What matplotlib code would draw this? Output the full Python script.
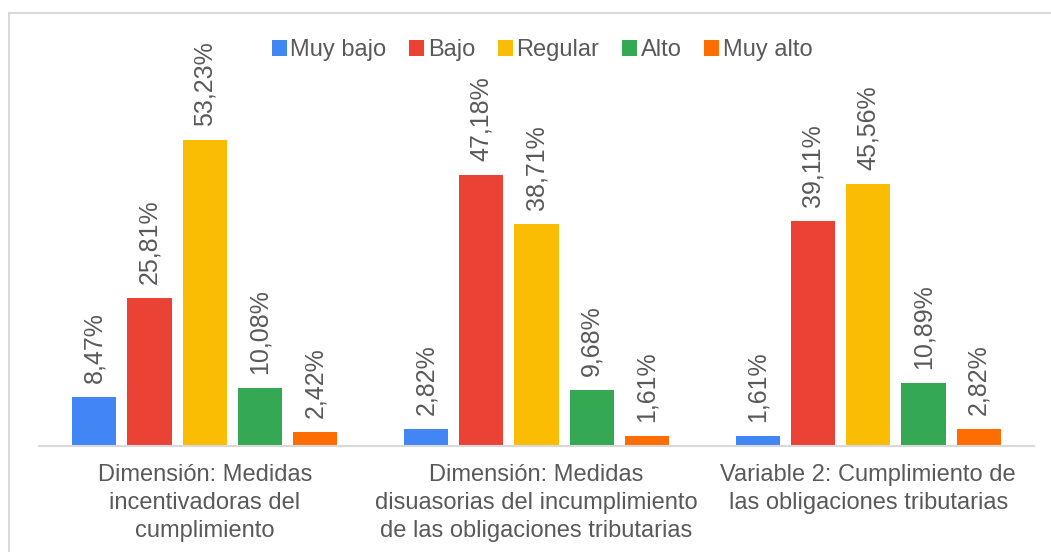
import matplotlib
matplotlib.use("Agg")
import matplotlib.pyplot as plt
from matplotlib.patches import Rectangle
import numpy as np

plt.rcParams['font.family'] = ['Liberation Sans', 'DejaVu Sans']

categories = ["Dimensión: Medidas\nincentivadoras del\ncumplimiento",
              "Dimensión: Medidas\ndisuasorias del incumplimiento\nde las obligaciones tributarias",
              "Variable 2: Cumplimiento de\nlas obligaciones tributarias"]
series = ["Muy bajo", "Bajo", "Regular", "Alto", "Muy alto"]
values = {
    "Muy bajo": [8.47, 2.82, 1.61],
    "Bajo": [25.81, 47.18, 39.11],
    "Regular": [53.23, 38.71, 45.56],
    "Alto": [10.08, 9.68, 10.89],
    "Muy alto": [2.42, 1.61, 2.82],
}
colors = ["#4285F4", "#EA4335", "#FBBC04", "#34A853", "#FF6D01"]
text_color = "#595959"

W, H = 1051, 552
fig = plt.figure(figsize=(W / 100, H / 100), dpi=100)
ax = fig.add_axes([39 / W, (H - 445.5) / H, (1034 - 39) / W, 344 / H])

x = np.arange(len(categories))
step = 0.1667
width = 0.133
for i, (s, c) in enumerate(zip(series, colors)):
    pos = x + (i - 2) * step
    vals = values[s]
    ax.bar(pos, vals, width=width, color=c, label=s, zorder=2)
    for px, v in zip(pos, vals):
        ax.annotate(f"{v:.2f}%".replace(".", ","), (px, v), xytext=(0, 10),
                    textcoords="offset points", rotation=90, ha="center",
                    va="bottom", fontsize=18, color=text_color)

ax.set_xlim(-0.5, len(categories) - 0.5)
ax.set_ylim(0, 60)
ax.set_yticks([])
for sp in ["top", "right", "left"]:
    ax.spines[sp].set_visible(False)
ax.spines["bottom"].set_color("#d9d9d9")
ax.spines["bottom"].set_linewidth(1.5)
ax.set_xticks(x)
ax.set_xticklabels(categories, fontsize=17, color=text_color, linespacing=1.38)
ax.tick_params(axis="x", length=0, pad=13)
ax.set_facecolor("none")

leg = fig.legend(loc="center", bbox_to_anchor=(542 / W, 1 - 50 / H), ncol=5,
                 frameon=False, fontsize=17, handlelength=0.65, handleheight=0.65,
                 handletextpad=0.15, columnspacing=0.95)
for t in leg.get_texts():
    t.set_color(text_color)

fig.patches.append(Rectangle((9 / W, -0.1), 1.2, 1 - 13 / H + 0.1,
                             transform=fig.transFigure, fill=False,
                             edgecolor="#d9d9d9", linewidth=1.5))

fig.savefig("out.png", dpi=100)
